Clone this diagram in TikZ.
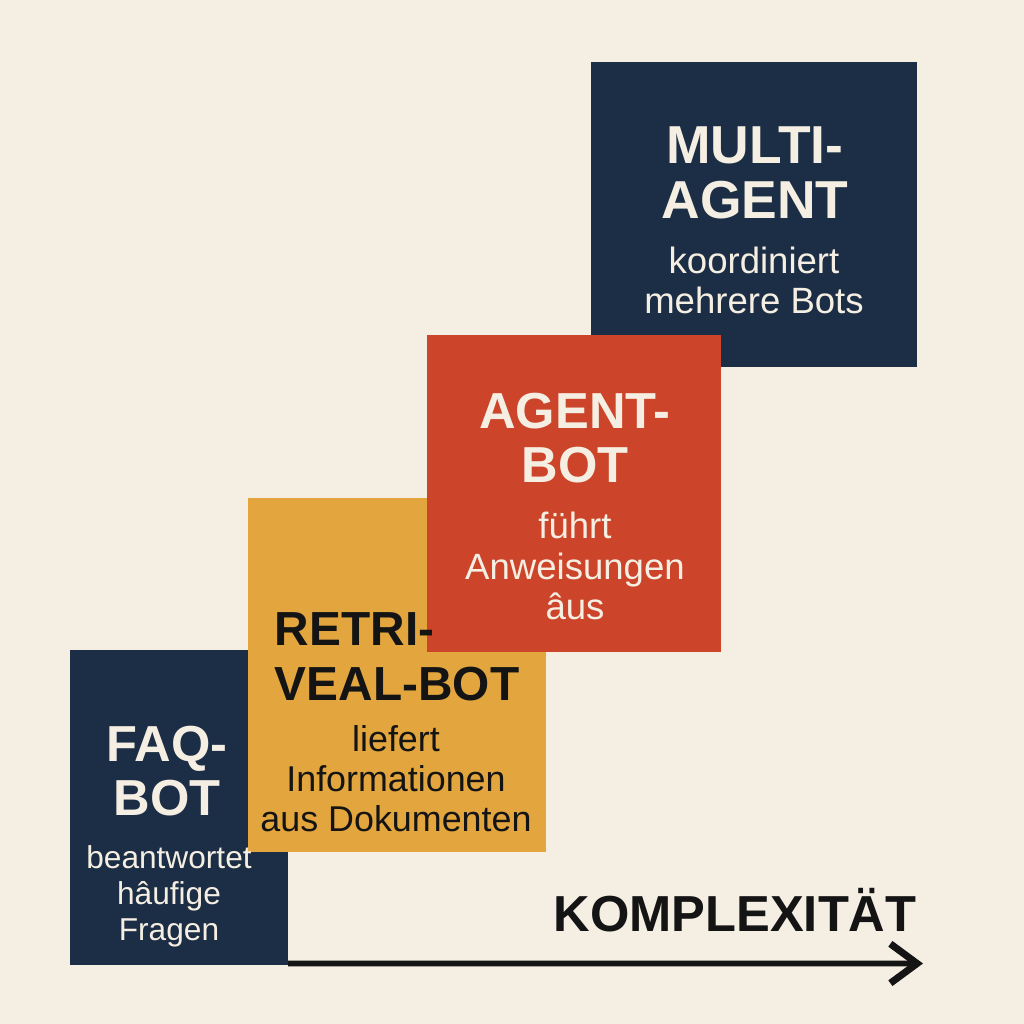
\documentclass[tikz,border=0pt]{standalone}
\usepackage{fontspec}
\setmainfont{Liberation Sans}
\usetikzlibrary{arrows.meta, positioning}
\definecolor{bgcream}{HTML}{F4EEE3}
\definecolor{botnavy}{HTML}{1C2E45}
\definecolor{botyellow}{HTML}{E3A63E}
\definecolor{botred}{HTML}{CC4429}
\definecolor{txtcream}{HTML}{F5EEE2}
\definecolor{txtblack}{HTML}{141414}

\begin{document}
\begin{tikzpicture}[x=0.025cm,y=-0.025cm,
    box/.style={inner sep=0pt,outer sep=0pt},
    title/.style={align=center,font=\fontsize{36}{39}\selectfont\bfseries},
    sub/.style={align=center,font=\fontsize{26}{28.5}\selectfont}]
    \fill[bgcream] (0,0) rectangle (1024,1024);
    \useasboundingbox (0,0) rectangle (1024,1024);
    \node[box,fill=botnavy,minimum width=5.45cm,minimum height=7.875cm] (faq) at (179,807.5) {};
    \node[box,fill=botyellow,minimum width=7.45cm,minimum height=8.85cm] (retr) at (397,675) {};
    \node[box,fill=botnavy,minimum width=8.15cm,minimum height=7.625cm] (multi) at (754,214.5) {};
    \node[box,fill=botred,minimum width=7.35cm,minimum height=7.925cm] (agent) at (574,493.5) {};
    \node[title,txtcream] (faqt) at (167,771) {FAQ-\\BOT};
    \node[sub,txtcream,font=\fontsize{22.5}{25.5}\selectfont] (faqs) at (169,896) {beantwortet\\hâufige\\Fragen};
    \node[title,txtblack,align=left,anchor=west,font=\fontsize{34}{39}\selectfont\bfseries] (retrt) at (270,657) {RETRI-\\VEAL-BOT};
    \node[sub,txtblack,font=\fontsize{25.5}{28.5}\selectfont] (retrs) at (396,779) {liefert\\Informationen\\aus Dokumenten};
    \node[title,txtcream] (agentt) at (575,438) {AGENT-\\BOT};
    \node[sub,txtcream] (agents) at (575,566) {führt\\Anweisungen\\âus};
    \node[title,txtcream,font=\fontsize{38}{39}\selectfont\bfseries] (multit) at (755,173) {MULTI-\\AGENT};
    \node[sub,txtcream] (multis) at (754,280) {koordiniert\\mehrere Bots};
    \node[title,txtblack] (komplex) at (735,910) {KOMPLEXITÄT};
    \coordinate (axisend) at (923,963.5);
    \draw[txtblack,line width=4pt,-{Straight Barb[length=19pt,width=28pt,line width=5pt]}] ([yshift=0.04cm]faq.south east) -- (axisend);
  \end{tikzpicture}
\end{document}
